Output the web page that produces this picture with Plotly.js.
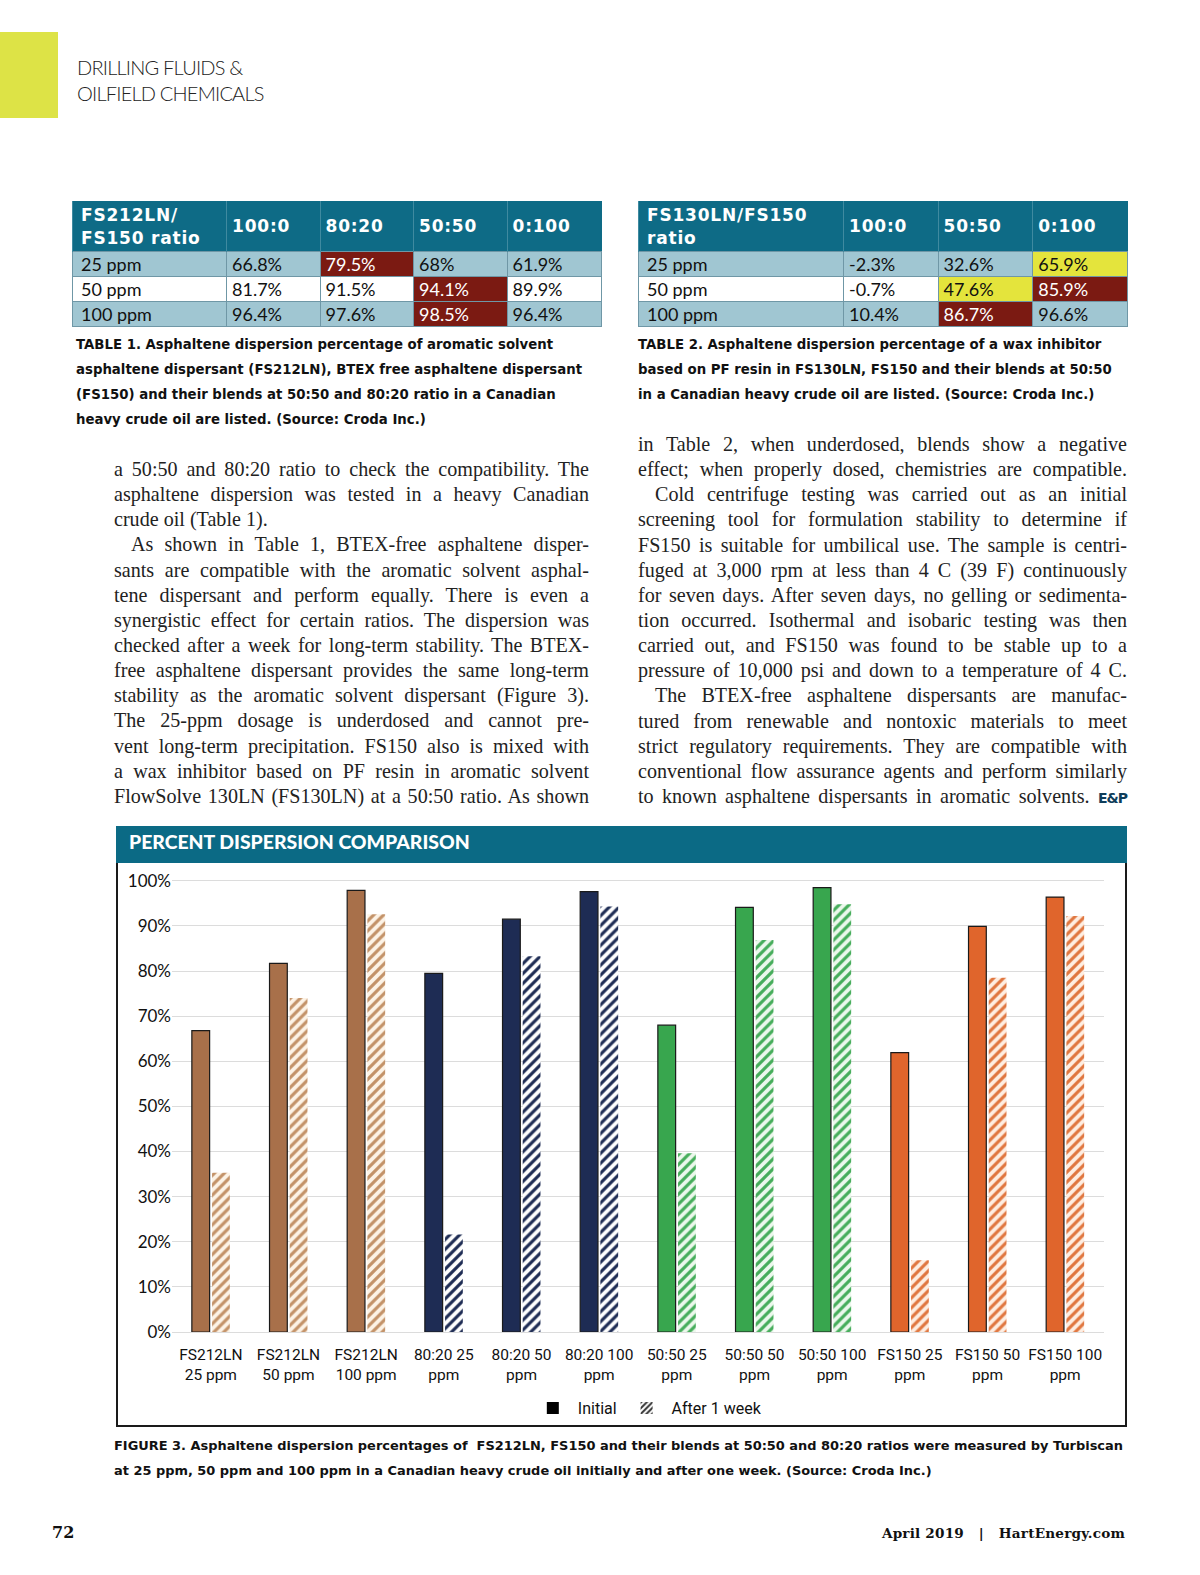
<!DOCTYPE html>
<html><head><meta charset="utf-8">
<script src="https://cdn.plot.ly/plotly-3.0.1.min.js"></script>
<style>
html,body{margin:0;padding:0;width:1200px;height:1575px;overflow:hidden;background:#fff;}
#page{position:relative;width:1200px;height:1575px;overflow:hidden;background:#fff;font-family:'Lato','Noto Sans',sans-serif;}
.abs{position:absolute;}
.sect{left:77px;font-family:'Lato',sans-serif;font-weight:300;font-size:20px;color:#222;letter-spacing:-0.8px;white-space:nowrap;}
.cap{font-family:'DejaVu Sans',sans-serif;font-weight:bold;font-size:13.3px;color:#111;white-space:nowrap;line-height:25.15px;}
.body{font-family:'Liberation Serif','DejaVu Serif',serif;font-size:20.1px;color:#222;line-height:25.15px;}
.body div{text-align:justify;text-align-last:justify;height:25.15px;overflow:visible;white-space:normal;}
.body div.ind{padding-left:17px;}
.body div.nj{text-align-last:left;}
table.dt{position:absolute;border-collapse:collapse;table-layout:fixed;border:1.5px solid #0E6B86;}
table.dt th{background:#0E6B86;color:#fff;font-family:'DejaVu Sans',sans-serif;font-weight:bold;font-size:17px;letter-spacing:0.8px;text-align:left;vertical-align:middle;height:49px;padding:0 0 0 5px;line-height:23px;border-left:1px solid #3F8AA0;}
table.dt th.first{padding-left:8px;}
table.dt td{font-family:'Lato','Noto Sans',sans-serif;font-size:18px;color:#111;height:24px;padding:0 0 0 5px;border:1px solid #6F97A6;line-height:24px;white-space:nowrap;}
table.dt td.first{padding-left:8px;}
</style></head><body><div id="page">
<div class="abs" style="left:0;top:32px;width:58px;height:86px;background:#DDE346;"></div>
<div class="abs sect" style="top:55px;">DRILLING FLUIDS &amp;</div>
<div class="abs sect" style="top:80.5px;">OILFIELD CHEMICALS</div>

<div id="t1wrap"></div>
<div id="t2wrap"></div>

<div class="abs cap" style="left:76px;top:332px;">TABLE 1. Asphaltene dispersion percentage of aromatic solvent<br>asphaltene dispersant (FS212LN), BTEX free asphaltene dispersant<br>(FS150) and their blends at 50:50 and 80:20 ratio in a Canadian<br>heavy crude oil are listed. (Source: Croda Inc.)</div>
<div class="abs cap" style="left:638px;top:332px;">TABLE 2. Asphaltene dispersion percentage of a wax inhibitor<br>based on PF resin in FS130LN, FS150 and their blends at 50:50<br>in a Canadian heavy crude oil are listed. (Source: Croda Inc.)</div>

<div class="abs body" style="left:114px;top:457px;width:475px;">
<div>a 50:50 and 80:20 ratio to check the compatibility. The</div>
<div>asphaltene dispersion was tested in a heavy Canadian</div>
<div class="nj">crude oil (Table 1).</div>
<div class="ind">As shown in Table 1, BTEX-free asphaltene disper-</div>
<div>sants are compatible with the aromatic solvent asphal-</div>
<div>tene dispersant and perform equally. There is even a</div>
<div>synergistic effect for certain ratios. The dispersion was</div>
<div>checked after a week for long-term stability. The BTEX-</div>
<div>free asphaltene dispersant provides the same long-term</div>
<div>stability as the aromatic solvent dispersant (Figure 3).</div>
<div>The 25-ppm dosage is underdosed and cannot pre-</div>
<div>vent long-term precipitation. FS150 also is mixed with</div>
<div>a wax inhibitor based on PF resin in aromatic solvent</div>
<div>FlowSolve 130LN (FS130LN) at a 50:50 ratio. As shown</div>
</div>
<div class="abs body" style="left:638px;top:432px;width:489px;">
<div>in Table 2, when underdosed, blends show a negative</div>
<div>effect; when properly dosed, chemistries are compatible.</div>
<div class="ind">Cold centrifuge testing was carried out as an initial</div>
<div>screening tool for formulation stability to determine if</div>
<div>FS150 is suitable for umbilical use. The sample is centri-</div>
<div>fuged at 3,000 rpm at less than 4 C (39 F) continuously</div>
<div>for seven days. After seven days, no gelling or sedimenta-</div>
<div>tion occurred. Isothermal and isobaric testing was then</div>
<div>carried out, and FS150 was found to be stable up to a</div>
<div>pressure of 10,000 psi and down to a temperature of 4 C.</div>
<div class="ind">The BTEX-free asphaltene dispersants are manufac-</div>
<div>tured from renewable and nontoxic materials to meet</div>
<div>strict regulatory requirements. They are compatible with</div>
<div>conventional flow assurance agents and perform similarly</div>
<div>to known asphaltene dispersants in aromatic solvents. <b style="font-family:'DejaVu Sans',sans-serif;font-size:14px;color:#0E3D5A;letter-spacing:-1px;">E&amp;P</b></div>
</div>

<div class="abs" style="left:116px;top:826px;width:1011px;height:601px;border:2px solid #1a1a1a;border-top:none;box-sizing:border-box;"></div>
<div class="abs" style="left:116px;top:826px;width:1011px;height:37px;background:#0B6A85;"></div>
<div class="abs" style="left:129px;top:830px;color:#fff;font-family:'Lato',sans-serif;font-weight:900;font-size:19.4px;white-space:nowrap;line-height:24px;">PERCENT DISPERSION COMPARISON</div>
<div id="chart" class="abs" style="left:118px;top:863px;width:1007px;height:562px;"></div>

<div class="abs cap" style="left:114px;top:1433px;font-size:12.95px;">FIGURE 3. Asphaltene dispersion percentages of &nbsp;FS212LN, FS150 and their blends at 50:50 and 80:20 ratios were measured by Turbiscan<br>at 25 ppm, 50 ppm and 100 ppm in a Canadian heavy crude oil initially and after one week. (Source: Croda Inc.)</div>

<div class="abs" style="left:52px;top:1522px;font-family:'DejaVu Serif',serif;font-weight:bold;font-size:16px;color:#111;line-height:22px;">72</div>
<div class="abs" style="left:878px;width:247px;text-align:right;top:1522px;font-family:'DejaVu Serif',serif;font-weight:bold;font-size:13.6px;color:#111;white-space:nowrap;letter-spacing:0.2px;line-height:22px;">April 2019 &nbsp;&nbsp;| &nbsp;&nbsp;HartEnergy.com</div>
</div>

<script>
// ---------- chart data ----------
const categories = ['FS212LN<br>25 ppm','FS212LN<br>50 ppm','FS212LN<br>100 ppm','80:20 25<br>ppm','80:20 50<br>ppm','80:20 100<br>ppm','50:50 25<br>ppm','50:50 50<br>ppm','50:50 100<br>ppm','FS150 25<br>ppm','FS150 50<br>ppm','FS150 100<br>ppm'];
const initialValues = [66.8, 81.7, 97.9, 79.5, 91.5, 97.6, 68.0, 94.1, 98.5, 61.9, 89.9, 96.4];
const afterWeekValues = [35.3, 74.0, 92.6, 21.6, 83.3, 94.3, 39.6, 86.9, 94.8, 15.9, 78.5, 92.2];
const yTickVals = [0,10,20,30,40,50,60,70,80,90,100];
const seriesNames = ['Initial','After 1 week'];

// ---------- table data ----------
const t1Header = ['FS212LN/<br>FS150 ratio','100:0','80:20','50:50','0:100'];
const t1Dose = ['25 ppm','50 ppm','100 ppm'];
const t1Col100_0 = ['66.8%','81.7%','96.4%'];
const t1Col80_20 = ['79.5%','91.5%','97.6%'];
const t1Col50_50 = ['68%','94.1%','98.5%'];
const t1Col0_100 = ['61.9%','89.9%','96.4%'];

const t2Header = ['FS130LN/FS150<br>ratio','100:0','50:50','0:100'];
const t2Dose = ['25 ppm','50 ppm','100 ppm'];
const t2Col100_0 = ['-2.3%','-0.7%','10.4%'];
const t2Col50_50 = ['32.6%','47.6%','86.7%'];
const t2Col0_100 = ['65.9%','85.9%','96.6%'];

// ---------- styles ----------
const groupSolid = ['#A8704A','#1E2C54','#38A64E','#E0652C'];
const groupHatchFg = ['#C39268','#1E2C54','#46AD5B','#E0763F'];
const groupHatchBg = ['#FDF3E6','#FFFFFF','#ECF8EC','#FEEEE2'];
const groupOf = [0,0,0,1,1,1,2,2,2,3,3,3];

const LB='#A0C6D2', W='#FFFFFF', RED='#7B1A12', YEL='#E4E43C';
const t1Fill = [[LB,W,LB],[LB,W,LB],[RED,W,LB],[LB,RED,RED],[LB,W,LB]];
const t2Fill = [[LB,W,LB],[LB,W,LB],[LB,YEL,RED],[YEL,RED,LB]];

function buildTable(wrapId, left, top, widths, header, cols, fill){
  const tb = document.createElement('table');
  tb.className='dt';
  tb.style.left=left+'px'; tb.style.top=top+'px';
  tb.style.width=widths.reduce((a,b)=>a+b,0)+'px';
  const cg=document.createElement('colgroup');
  widths.forEach(w=>{const c=document.createElement('col');c.style.width=w+'px';cg.appendChild(c);});
  tb.appendChild(cg);
  const hr=document.createElement('tr');
  header.forEach((h,i)=>{const th=document.createElement('th');th.innerHTML=h;if(i===0)th.className='first';hr.appendChild(th);});
  tb.appendChild(hr);
  for(let r=0;r<cols[0].length;r++){
    const tr=document.createElement('tr');
    cols.forEach((col,c)=>{
      const td=document.createElement('td');
      td.textContent=col[r];
      if(c===0) td.className='first';
      td.style.background=fill[c][r];
      td.style.color = fill[c][r]===RED ? '#fff' : '#111';
      tr.appendChild(td);
    });
    tb.appendChild(tr);
  }
  document.getElementById(wrapId).appendChild(tb);
}
buildTable('t1wrap',72,201,[154,93.5,93.5,93.5,94.5],t1Header,[t1Dose,t1Col100_0,t1Col80_20,t1Col50_50,t1Col0_100],t1Fill);
buildTable('t2wrap',638,201,[205,94.6,94.6,94.6],t2Header,[t2Dose,t2Col100_0,t2Col50_50,t2Col0_100],t2Fill);

// ---------- chart ----------
const traces = [{
  type:'bar', x:categories, y:initialValues, name:seriesNames[0], showlegend:false, offsetgroup:'a',
  marker:{color:groupOf.map(g=>groupSolid[g]), line:{color:'#1a1a1a',width:1.2}}
}];
for(let g=0; g<4; g++){
  const idx = groupOf.map((v,i)=>v===g?i:-1).filter(i=>i>=0);
  traces.push({
    type:'bar', x:idx.map(i=>categories[i]), y:idx.map(i=>afterWeekValues[i]), name:seriesNames[1], showlegend:false, offsetgroup:'b',
    marker:{color:groupHatchBg[g], line:{width:0},
      pattern:{shape:'/', fgcolor:groupHatchFg[g], bgcolor:groupHatchBg[g], size:7, solidity:0.45, fillmode:'replace'}}
  });
}
traces.push({type:'bar', x:[0], y:[0], name:seriesNames[0], xaxis:'x2', yaxis:'y2', marker:{color:'#000'}});
traces.push({type:'bar', x:[0], y:[0], name:seriesNames[1], xaxis:'x2', yaxis:'y2',
  marker:{color:'#fff', line:{width:0}, pattern:{shape:'/', fgcolor:'#333', bgcolor:'#fff', size:5, solidity:0.5}}});

const layout = {
  width:1007, height:562,
  margin:{l:54, r:21, t:16, b:93},
  paper_bgcolor:'#fff', plot_bgcolor:'#fff',
  barmode:'group', bargap:0.48, bargroupgap:0.12,
  font:{family:"Roboto,'Liberation Sans',sans-serif", color:'#111'},
  xaxis:{type:'category', categoryorder:'array', categoryarray:categories, tickangle:0, automargin:false, ticklabelstandoff:11,
    tickfont:{size:15.5, family:"Roboto,'Liberation Sans',sans-serif", color:'#111'}, showline:false, ticks:'', showgrid:false},
  yaxis:{range:[0,100.4], automargin:false, tickvals:yTickVals, ticktext:yTickVals.map(v=>v+'%'), showgrid:true, gridcolor:'#DCDCDC', gridwidth:1,
    zeroline:true, zerolinecolor:'#DCDCDC', zerolinewidth:1, showline:false, ticks:'',
    tickfont:{size:17, family:"'Lato','Noto Sans',sans-serif", color:'#111'}},
  xaxis2:{domain:[0,0.001], anchor:'y2', visible:false},
  yaxis2:{domain:[0,0.001], anchor:'x2', visible:false},
  showlegend:true,
  legend:{orientation:'h', x:0.51, xanchor:'center', yref:'container', y:0.03, yanchor:'middle',
    font:{size:16, family:"Roboto,'Liberation Sans',sans-serif", color:'#111'}, itemwidth:40, traceorder:'normal'}
};
Plotly.newPlot('chart', traces, layout, {staticPlot:true, displayModeBar:false});
</script>
</body></html>
